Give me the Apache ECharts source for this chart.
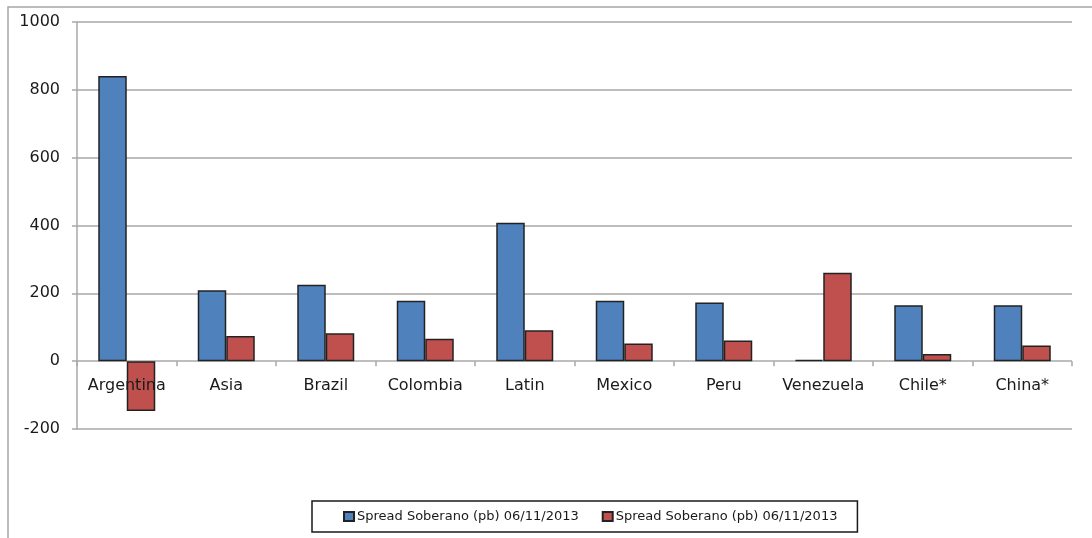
<!DOCTYPE html>
<html>
<head>
<meta charset="utf-8">
<script src="https://cdn.jsdelivr.net/npm/echarts@6/dist/echarts.min.js"></script>
<style>
  html, body { margin: 0; padding: 0; background: #ffffff; }
  #chart { width: 1092px; height: 538px; }
</style>
</head>
<body>
<div id="chart"></div>
<script>
// Sovereign spreads by country / region (basis points)
const categories = ['Argentina', 'Asia', 'Brazil', 'Colombia', 'Latin', 'Mexico', 'Peru', 'Venezuela', 'Chile*', 'China*'];
const spreadFirst = [841, 209, 225, 178, 408, 178, 173, 4, 165, 165];
const spreadSecond = [-147, 74, 82, 66, 91, 52, 61, 261, 21, 46];
const legendLabel = 'Spread Soberano (pb) 06/11/2013';
const yTicks = { min: -200, max: 1000, step: 200 };

// both series carry the same label, so keep distinct internal names
const seriesKeys = ['spreadFirst', 'spreadSecond'];

const FONT = 'DejaVu Sans';
const GRID_GRAY = '#a8a8a8';
const BAR_EDGE = '#222222';

const CHART_H = 538;
const GRID = { left: 77, right: 20, top: 22, bottom: 109 };
// lift the category axis from the bottom edge up to the zero line
const plotH = CHART_H - GRID.top - GRID.bottom;
const zeroLift = -plotH * (0 - yTicks.min) / (yTicks.max - yTicks.min);

const chart = echarts.init(document.getElementById('chart'), null, { renderer: 'canvas' });

chart.setOption({
  backgroundColor: '#ffffff',
  animation: false,
  graphic: [{
    type: 'rect',
    shape: { x: 8, y: 7, width: 1300, height: 900 },
    style: { fill: 'none', stroke: '#a6a6a6', lineWidth: 1.5 },
    silent: true,
    z: -10
  }],
  grid: { left: GRID.left, right: GRID.right, top: GRID.top, bottom: GRID.bottom, containLabel: false },
  legend: {
    data: seriesKeys,
    formatter: () => legendLabel,
    left: 312,
    top: 501,
    orient: 'horizontal',
    icon: 'rect',
    itemWidth: 10,
    itemHeight: 9,
    itemGap: 23,
    padding: [9, 20, 9, 31],
    borderColor: '#1a1a1a',
    borderWidth: 1.5,
    textStyle: { fontFamily: FONT, fontSize: 13, color: '#1a1a1a', padding: [0, 0, 0, -2] }
  },
  xAxis: {
    type: 'category',
    data: categories,
    position: 'bottom',
    offset: zeroLift,
    z: 5,
    // the zero split line of the value axis serves as the baseline
    axisLine: { show: false, onZero: false },
    axisTick: { show: true, alignWithLabel: false, length: 5, lineStyle: { color: GRID_GRAY, width: 1.5 } },
    axisLabel: { fontFamily: FONT, fontSize: 16, color: '#1a1a1a', margin: 17, interval: 0 },
    splitLine: { show: false }
  },
  yAxis: {
    type: 'value',
    min: yTicks.min,
    max: yTicks.max,
    interval: yTicks.step,
    axisLine: { show: true, lineStyle: { color: GRID_GRAY, width: 1.5 } },
    axisTick: { show: true, length: 5, lineStyle: { color: GRID_GRAY, width: 1.5 } },
    axisLabel: { fontFamily: FONT, fontSize: 16, color: '#1a1a1a', margin: 17, formatter: v => String(v) },
    splitLine: { show: true, lineStyle: { color: GRID_GRAY, width: 1.5 } }
  },
  series: [
    {
      name: seriesKeys[0],
      type: 'bar',
      data: spreadFirst,
      barWidth: 28.5,
      barGap: '0%',
      itemStyle: { color: '#4f81bd', borderColor: BAR_EDGE, borderWidth: 1.5 }
    },
    {
      name: seriesKeys[1],
      type: 'bar',
      data: spreadSecond,
      barWidth: 28.5,
      barGap: '0%',
      itemStyle: { color: '#c0504d', borderColor: BAR_EDGE, borderWidth: 1.5 }
    }
  ]
});
</script>
</body>
</html>
